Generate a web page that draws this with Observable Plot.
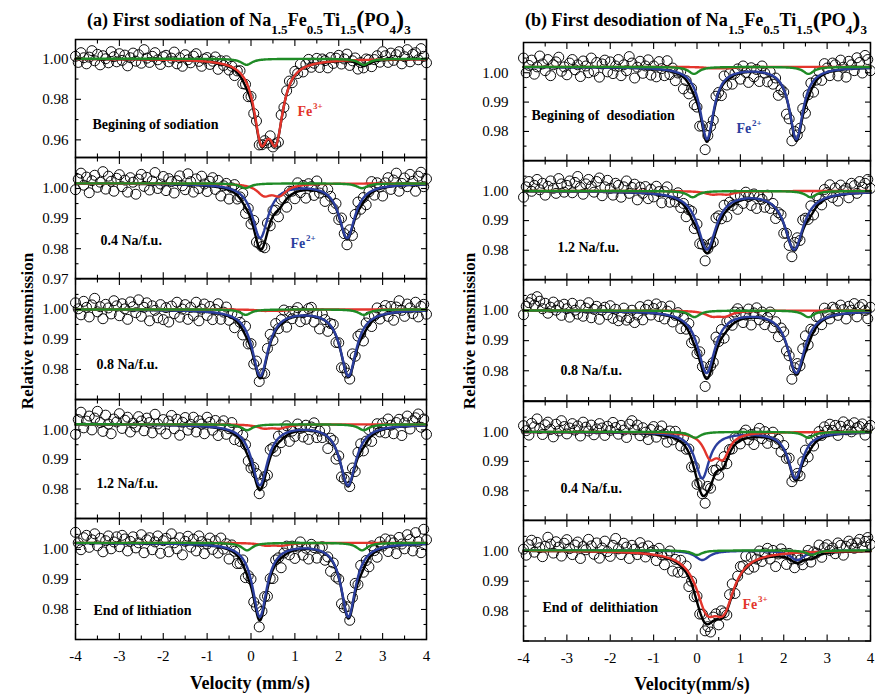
<!DOCTYPE html>
<html>
<head>
<meta charset="utf-8">
<script src="https://cdn.jsdelivr.net/npm/d3@7"></script>
<script src="https://cdn.jsdelivr.net/npm/@observablehq/plot@0.6"></script>
<style>
  html, body { margin: 0; padding: 0; background: #fff; }
  #fig { position: relative; width: 875px; height: 694px; background: #fff; overflow: hidden; }
</style>
</head>
<body>
<div id="fig"></div>
<script>
// Mössbauer spectra of Na1.5Fe0.5Ti1.5(PO4)3 during the first sodiation / desodiation.
// Transmission is sampled on 129 velocity channels from -4 to +4 mm/s.
const velocity = d3.range(129).map(i => -4 + i / 16);

// ---- measured transmission, first sodiation ----
const sodStart = [1.0012,0.9982,1.0030,1.0005,0.9975,1.0008,1.0040,0.9990,1.0022,0.9970,1.0015,1.0000,0.9980,1.0035,1.0010,0.9985,
1.0025,0.9992,1.0018,0.9965,1.0005,1.0028,0.9988,1.0020,0.9978,1.0045,1.0003,0.9982,1.0012,1.0030,0.9995,0.9972,
1.0010,1.0017,0.9985,1.0003,1.0033,0.9975,1.0005,0.9963,1.0020,0.9995,0.9980,1.0013,1.0025,0.9987,0.9963,0.9999,
1.0006,0.9972,0.9988,1.0009,0.9948,0.9990,0.9967,0.9990,0.9944,0.9963,0.9917,0.9940,0.9941,0.9877,0.9874,0.9813,
0.9814,0.9730,0.9693,0.9575,0.9576,0.9596,0.9585,0.9620,0.9565,0.9580,0.9589,0.9723,0.9760,0.9842,0.9890,0.9882,
0.9938,0.9927,0.9973,0.9935,0.9972,0.9997,0.9958,0.9978,1.0002,0.9957,0.9999,0.9991,0.9955,1.0006,0.9977,1.0003,
1.0017,0.9974,0.9999,1.0023,0.9967,0.9990,1.0004,0.9949,0.9981,0.9955,0.9999,0.9995,0.9961,0.9996,1.0015,0.9983,
1.0035,1.0015,0.9982,1.0028,0.9992,1.0020,1.0035,0.9975,1.0010,1.0045,0.9985,1.0022,1.0030,0.9995,1.0050,1.0012,0.9980];

const sod04 = [0.9996,1.0031,1.0051,1.0011,1.0038,0.9986,1.0026,1.0044,1.0004,1.0021,1.0056,0.9998,1.0041,1.0024,0.9991,1.0034,
1.0046,1.0006,1.0028,0.9988,1.0036,1.0021,0.9981,1.0031,1.0047,1.0007,1.0037,0.9995,1.0025,1.0053,1.0000,1.0015,
1.0040,0.9993,1.0033,1.0023,0.9985,1.0026,1.0042,1.0009,0.9996,1.0049,1.0023,0.9988,1.0032,1.0000,1.0041,1.0015,
0.9990,1.0024,1.0036,0.9997,1.0027,0.9975,1.0009,1.0017,0.9965,1.0002,1.0013,0.9965,0.9972,0.9984,0.9917,0.9934,
0.9882,0.9894,0.9822,0.9817,0.9807,0.9803,0.9885,0.9876,0.9927,0.9928,0.9906,0.9964,0.9967,0.9938,0.9991,0.9991,
0.9966,1.0019,0.9986,1.0010,0.9968,1.0016,1.0006,0.9977,1.0025,0.9985,0.9998,0.9957,0.9997,0.9974,0.9933,0.9950,
0.9897,0.9902,0.9850,0.9813,0.9863,0.9844,0.9914,0.9955,0.9931,0.9970,0.9946,0.9989,1.0023,0.9978,1.0019,1.0005,
0.9975,1.0019,1.0036,0.9997,1.0028,1.0051,0.9991,1.0017,1.0035,1.0006,1.0047,1.0024,0.9991,1.0041,1.0054,1.0006,1.0032];

const sod08 = [1.0022,1.0002,0.9982,1.0027,1.0007,0.9975,1.0015,1.0037,0.9992,1.0009,0.9969,1.0017,1.0005,0.9985,1.0029,1.0012,
0.9979,1.0019,1.0002,0.9967,1.0025,1.0009,0.9989,1.0032,0.9977,1.0007,1.0022,0.9962,1.0012,0.9997,0.9972,1.0016,
0.9966,1.0006,0.9958,1.0011,0.9986,1.0024,0.9974,1.0001,1.0016,0.9967,1.0007,0.9980,1.0024,0.9962,1.0001,1.0018,
0.9980,1.0010,0.9966,1.0000,1.0019,0.9967,0.9991,1.0008,0.9964,0.9986,0.9939,0.9981,0.9957,0.9915,0.9944,0.9885,
0.9886,0.9818,0.9828,0.9760,0.9786,0.9787,0.9870,0.9917,0.9897,0.9953,0.9936,0.9966,0.9998,0.9941,0.9993,0.9969,
0.9994,1.0006,0.9959,0.9989,0.9967,1.0003,1.0007,0.9958,0.9986,0.9935,0.9985,0.9966,0.9927,0.9953,0.9950,0.9890,
0.9889,0.9806,0.9805,0.9788,0.9768,0.9852,0.9844,0.9911,0.9918,0.9895,0.9955,0.9975,0.9943,0.9979,1.0005,0.9968,
0.9997,1.0013,0.9977,1.0010,0.9964,1.0008,1.0029,0.9997,0.9977,1.0018,1.0005,0.9986,1.0024,0.9975,1.0010,1.0017,0.9984];

const sod12 = [0.9985,1.0035,1.0060,1.0007,1.0030,1.0047,1.0000,1.0040,1.0063,1.0025,0.9995,1.0050,1.0020,0.9987,1.0037,1.0027,
1.0055,1.0005,1.0033,1.0043,0.9993,1.0023,1.0010,1.0045,1.0030,0.9997,1.0040,1.0025,0.9990,1.0053,1.0020,1.0003,
1.0035,0.9987,1.0030,1.0049,1.0004,1.0036,0.9982,1.0026,1.0042,0.9999,1.0019,1.0043,0.9993,1.0031,1.0020,0.9987,
1.0043,1.0026,0.9999,1.0032,0.9981,1.0017,1.0031,0.9985,1.0004,1.0025,0.9967,0.9993,0.9961,0.9982,0.9950,0.9895,
0.9871,0.9873,0.9852,0.9784,0.9819,0.9842,0.9847,0.9933,0.9940,0.9928,0.9979,0.9957,0.9992,1.0014,0.9961,0.9996,
0.9978,1.0020,1.0005,0.9976,1.0016,0.9968,1.0010,1.0024,0.9974,0.9996,0.9974,1.0002,0.9937,0.9972,0.9964,0.9901,
0.9912,0.9841,0.9834,0.9839,0.9808,0.9871,0.9859,0.9924,0.9953,0.9929,0.9962,1.0001,0.9961,1.0000,1.0021,0.9993,
1.0023,0.9990,1.0037,1.0016,0.9987,1.0025,1.0036,0.9981,1.0024,1.0047,1.0003,1.0031,1.0041,1.0054,1.0009,1.0037,0.9985];

const sodEnd = [1.0057,1.0022,0.9999,1.0039,1.0047,1.0007,1.0032,1.0052,1.0012,1.0037,0.9992,1.0029,1.0045,1.0002,1.0025,1.0042,
1.0009,1.0047,1.0035,0.9995,1.0027,1.0042,1.0005,1.0022,1.0049,0.9989,1.0032,1.0039,0.9999,1.0025,1.0045,0.9987,
1.0029,1.0037,0.9992,1.0052,1.0022,1.0002,1.0039,0.9982,1.0027,1.0044,1.0008,1.0034,0.9995,1.0045,1.0026,0.9986,
1.0018,1.0038,1.0000,1.0029,0.9988,1.0038,1.0001,1.0019,0.9968,1.0015,0.9994,0.9953,0.9953,0.9965,0.9906,0.9913,
0.9901,0.9825,0.9809,0.9742,0.9794,0.9843,0.9844,0.9903,0.9903,0.9965,0.9972,0.9939,0.9988,1.0011,0.9982,1.0011,
0.9970,1.0008,1.0025,0.9981,1.0004,0.9968,1.0017,1.0006,0.9971,1.0005,1.0009,0.9964,0.9975,0.9927,0.9955,0.9908,
0.9901,0.9819,0.9806,0.9809,0.9764,0.9840,0.9887,0.9883,0.9947,0.9924,0.9963,0.9942,1.0012,0.9996,0.9974,1.0025,
1.0011,1.0035,0.9993,1.0031,1.0022,0.9986,1.0040,1.0018,1.0002,1.0049,1.0033,0.9995,1.0056,1.0026,0.9989,1.0067,1.0032];

// ---- measured transmission, first desodiation ----
const desStart = [1.0050,1.0000,1.0025,1.0043,0.9995,1.0020,1.0057,1.0030,1.0007,1.0045,0.9990,1.0027,1.0037,1.0053,1.0005,1.0020,
0.9993,1.0033,1.0045,1.0010,1.0027,0.9987,1.0040,1.0023,1.0000,1.0050,1.0005,1.0035,0.9985,1.0030,1.0043,1.0003,
1.0037,0.9997,1.0023,1.0045,0.9990,1.0027,1.0007,1.0055,1.0033,0.9982,1.0019,1.0039,0.9998,1.0023,1.0044,0.9992,
1.0023,0.9986,1.0038,1.0014,0.9990,1.0041,0.9994,1.0016,0.9973,0.9999,1.0004,0.9945,0.9973,0.9928,0.9947,0.9891,
0.9883,0.9818,0.9819,0.9738,0.9786,0.9817,0.9838,0.9920,0.9933,0.9922,0.9989,0.9958,0.9997,0.9961,0.9998,1.0013,
0.9978,1.0023,1.0001,0.9967,1.0017,0.9986,1.0011,0.9970,1.0023,0.9999,0.9969,1.0003,0.9961,0.9982,0.9923,0.9943,
0.9934,0.9859,0.9843,0.9768,0.9800,0.9788,0.9811,0.9878,0.9862,0.9925,0.9965,0.9934,0.9975,1.0005,0.9974,1.0031,
1.0016,0.9990,1.0033,1.0027,0.9989,1.0043,1.0019,0.9985,1.0039,1.0027,1.0007,1.0051,1.0035,0.9999,1.0059,1.0045,1.0007];

const des12 = [0.9979,1.0014,1.0032,0.9999,1.0019,1.0039,1.0004,1.0026,0.9986,1.0016,1.0034,1.0009,0.9992,1.0042,1.0024,0.9996,
1.0019,1.0034,0.9994,1.0029,1.0049,1.0012,0.9989,1.0024,1.0039,1.0016,0.9996,1.0032,1.0044,0.9984,1.0014,1.0036,
1.0009,0.9986,1.0026,1.0019,0.9979,1.0014,1.0034,0.9992,1.0012,1.0023,0.9970,1.0013,0.9992,1.0015,0.9974,1.0006,
0.9980,1.0016,0.9998,0.9960,0.9998,1.0014,0.9962,0.9987,0.9963,0.9994,0.9944,0.9958,0.9913,0.9937,0.9932,0.9873,
0.9888,0.9822,0.9820,0.9764,0.9805,0.9821,0.9828,0.9909,0.9916,0.9906,0.9952,0.9913,0.9962,0.9951,0.9986,0.9938,
0.9983,0.9958,0.9996,0.9981,0.9951,0.9990,0.9941,0.9981,0.9972,0.9945,0.9986,0.9941,0.9958,0.9907,0.9927,0.9920,
0.9857,0.9857,0.9816,0.9778,0.9826,0.9842,0.9833,0.9902,0.9908,0.9904,0.9950,0.9919,0.9984,0.9972,0.9953,1.0005,
0.9995,1.0021,0.9978,1.0010,0.9966,1.0020,1.0001,1.0009,0.9977,1.0026,1.0018,0.9992,1.0032,1.0013,1.0026,1.0039,1.0009];

const des08 = [0.9986,1.0014,1.0026,1.0038,1.0018,1.0046,1.0031,1.0006,1.0024,0.9991,1.0011,1.0028,1.0001,1.0016,0.9984,1.0021,
1.0006,0.9978,1.0024,1.0001,0.9988,1.0018,0.9981,1.0008,1.0026,0.9976,1.0004,1.0014,0.9971,1.0001,1.0011,0.9986,
1.0016,0.9974,1.0004,0.9966,0.9981,1.0008,0.9968,0.9976,1.0001,0.9960,0.9985,1.0013,0.9969,1.0004,1.0018,0.9985,
1.0007,1.0022,0.9980,1.0013,0.9972,0.9998,1.0015,0.9962,0.9984,0.9993,0.9940,0.9974,0.9938,0.9957,0.9893,0.9901,
0.9857,0.9863,0.9814,0.9748,0.9796,0.9815,0.9828,0.9912,0.9897,0.9937,0.9908,0.9963,0.9966,0.9951,0.9995,1.0006,
0.9993,0.9960,0.9985,1.0005,0.9952,0.9992,1.0009,0.9969,0.9995,0.9953,0.9977,0.9995,0.9943,0.9963,0.9913,0.9942,
0.9929,0.9866,0.9850,0.9772,0.9810,0.9824,0.9816,0.9873,0.9916,0.9886,0.9938,0.9934,0.9980,0.9979,0.9953,1.0008,
0.9992,0.9972,1.0011,1.0006,0.9984,1.0018,1.0003,0.9972,1.0014,1.0001,1.0023,0.9979,1.0012,1.0020,1.0000,0.9973,1.0011];

const des04 = [1.0021,1.0004,0.9989,1.0029,1.0017,1.0044,1.0011,0.9991,1.0024,1.0033,1.0008,0.9983,1.0026,1.0003,1.0038,1.0018,
0.9993,1.0013,1.0028,1.0006,1.0020,0.9986,1.0033,1.0016,1.0003,1.0023,0.9990,1.0010,1.0028,1.0013,0.9988,1.0019,
1.0005,1.0032,1.0015,0.9992,1.0022,1.0006,0.9981,1.0026,1.0038,1.0007,1.0023,0.9987,1.0014,0.9999,0.9974,1.0008,
1.0018,0.9982,1.0003,1.0020,0.9993,0.9965,1.0003,0.9973,1.0002,0.9984,0.9952,0.9980,0.9941,0.9942,0.9881,0.9882,
0.9822,0.9826,0.9790,0.9758,0.9815,0.9809,0.9869,0.9871,0.9853,0.9887,0.9916,0.9892,0.9940,0.9942,0.9981,0.9980,
0.9959,0.9994,1.0006,0.9973,0.9991,0.9957,0.9997,1.0012,0.9977,1.0001,0.9961,0.9985,0.9999,0.9960,0.9975,0.9932,
0.9954,0.9910,0.9911,0.9831,0.9847,0.9859,0.9851,0.9899,0.9938,0.9915,0.9971,0.9952,0.9985,1.0001,0.9988,1.0017,
1.0005,1.0026,1.0005,1.0022,0.9988,1.0019,1.0034,1.0007,1.0023,1.0000,1.0031,1.0014,1.0018,1.0027,0.9989,1.0012,1.0022];

const desEnd = [1.0007,0.9987,1.0022,1.0037,0.9997,1.0030,1.0012,0.9982,1.0017,1.0047,1.0024,0.9994,1.0032,1.0014,0.9984,1.0027,
1.0039,1.0009,0.9989,1.0021,1.0031,0.9976,1.0016,1.0005,1.0040,1.0018,0.9990,1.0028,0.9977,1.0011,1.0034,0.9999,
0.9983,1.0020,1.0043,1.0008,0.9989,1.0027,1.0014,0.9976,1.0020,1.0007,0.9989,1.0029,1.0012,0.9981,1.0018,0.9997,
1.0003,0.9969,1.0010,0.9988,0.9955,0.9989,1.0001,0.9934,0.9973,0.9930,0.9970,0.9929,0.9951,0.9882,0.9900,0.9848,
0.9850,0.9790,0.9790,0.9734,0.9748,0.9730,0.9780,0.9791,0.9754,0.9801,0.9794,0.9787,0.9855,0.9891,0.9859,0.9917,
0.9949,0.9951,0.9984,0.9940,0.9981,0.9947,0.9974,1.0001,0.9966,0.9994,1.0010,0.9974,1.0003,0.9949,0.9991,1.0008,
0.9993,0.9956,0.9993,0.9974,0.9945,0.9985,0.9971,0.9955,0.9986,1.0003,0.9964,0.9998,0.9994,1.0021,0.9980,1.0012,
1.0022,1.0003,1.0011,0.9992,1.0028,1.0020,0.9987,1.0017,1.0034,1.0024,1.0010,1.0028,1.0040,1.0015,1.0033,1.0046,1.0023];

// ---- fitted Lorentzian sub-spectra (line positions in mm/s, half width, depth per line) ----
const sodBaseline = [1.0000, 1.0017, 1.0000, 1.0019, 1.0022];
const desBaseline = [1.0020, 1.0000, 1.0000, 1.0000, 1.0003];

const sodStartFit = [
  {site: "Fe3+", lines: [0.23, 0.57], width: 0.20, depth: 0.0340},
  {site: "minor", lines: [-0.10, 2.57], width: 0.15, depth: 0.0030}
];
const sod04Fit = [
  {site: "Fe2+", lines: [0.21, 2.19], width: 0.22, depth: 0.0180},
  {site: "Fe3+", lines: [0.30, 0.65], width: 0.20, depth: 0.0035},
  {site: "minor", lines: [-0.13, 2.53], width: 0.15, depth: 0.0016}
];
const sod08Fit = [
  {site: "Fe2+", lines: [0.21, 2.22], width: 0.22, depth: 0.0220},
  {site: "Fe3+", lines: [0.30, 0.65], width: 0.20, depth: 0.0004},
  {site: "minor", lines: [-0.12, 2.57], width: 0.15, depth: 0.0018}
];
const sod12Fit = [
  {site: "Fe2+", lines: [0.20, 2.21], width: 0.22, depth: 0.0205},
  {site: "Fe3+", lines: [0.30, 0.65], width: 0.20, depth: 0.0012},
  {site: "minor", lines: [-0.09, 2.57], width: 0.15, depth: 0.0020}
];
const sodEndFit = [
  {site: "Fe2+", lines: [0.20, 2.22], width: 0.20, depth: 0.0245},
  {site: "Fe3+", lines: [0.35, 0.70], width: 0.20, depth: 0.0008},
  {site: "minor", lines: [-0.09, 2.53], width: 0.15, depth: 0.0025}
];
const desStartFit = [
  {site: "Fe2+", lines: [0.23, 2.29], width: 0.19, depth: 0.0245},
  {site: "Fe3+", lines: [0.35, 0.70], width: 0.20, depth: 0.0004},
  {site: "minor", lines: [-0.07, 2.57], width: 0.15, depth: 0.0024}
];
const des12Fit = [
  {site: "Fe2+", lines: [0.23, 2.24], width: 0.26, depth: 0.0195},
  {site: "Fe3+", lines: [0.35, 0.70], width: 0.20, depth: 0.0010},
  {site: "minor", lines: [-0.10, 2.62], width: 0.15, depth: 0.0021}
];
const des08Fit = [
  {site: "Fe2+", lines: [0.22, 2.29], width: 0.24, depth: 0.0205},
  {site: "Fe3+", lines: [0.35, 0.65], width: 0.20, depth: 0.0016},
  {site: "minor", lines: [-0.06, 2.57], width: 0.15, depth: 0.0022}
];
const des04Fit = [
  {site: "Fe2+", lines: [0.12, 2.27], width: 0.20, depth: 0.0157},
  {site: "Fe3+", lines: [0.30, 0.60], width: 0.18, depth: 0.0076},
  {site: "minor", lines: [-0.04, 2.57], width: 0.15, depth: 0.0020}
];
const desEndFit = [
  {site: "Fe2+", lines: [0.12, 2.31], width: 0.20, depth: 0.0032},
  {site: "Fe3+", lines: [0.22, 0.62], width: 0.30, depth: 0.0159},
  {site: "minor", lines: [0.00, 2.65], width: 0.15, depth: 0.0015}
];

// ---- panel captions ----
const sodCaptions = ["Begining of sodiation", "0.4 Na/f.u.", "0.8 Na/f.u.", "1.2 Na/f.u.", "End of lithiation"];
const desCaptions = ["Begining of \u00a0desodiation", "1.2 Na/f.u.", "0.8 Na/f.u.", "0.4 Na/f.u.", "End of \u00a0delithiation"];

// ---- axis ticks ----
const xLabels = [-4, -3, -2, -1, 0, 1, 2, 3, 4];
const xMinorTicks = [-3.5, -2.5, -1.5, -0.5, 0.5, 1.5, 2.5, 3.5];
const yMajorTicks = [0.97, 0.98, 0.99, 1.00];
const yMinorTicks = [0.975, 0.985, 0.995, 1.005];
const yMajorTicksWide = [0.96, 0.98, 1.00];
const yMinorTicksWide = [0.97, 0.99];

// ---- drawing ----
const SERIF = '"Liberation Serif", "Times New Roman", Times, serif';
const siteColor = {"Fe2+": "#2b3e9e", "Fe3+": "#e3352c", "minor": "#1f8b26"};
const siteOrder = ["Fe2+", "Fe3+", "minor"];
const fineV = d3.range(401).map(i => -4 + i * 0.02);

function absorption(v, comps) {
  return d3.sum(comps, c => d3.sum(c.lines, p => c.depth / (1 + ((v - p) / c.width) ** 2)));
}

const columns = [
  {left: 75, right: 426, rows: [39, 157, 278.3, 399.3, 518.3, 639.3], pad: 7},
  {left: 523, right: 870, rows: [41.7, 160, 279.3, 400.7, 519.5, 640], pad: 15}
];

const fig = d3.select("#fig");

function note(text, dx, dy, opts = {}) {
  return Plot.text([text], {
    text: d => d, frameAnchor: "top-left", dx, dy,
    textAnchor: "start", lineAnchor: "bottom",
    fontWeight: "bold", fontSize: opts.size || 14, fill: opts.fill || "#000"
  });
}

function drawPanel(p) {
  const col = columns[p.col];
  const top = col.rows[p.row], bottom = col.rows[p.row + 1];
  const isBottom = p.row === 4;
  const ml = 70, mr = 5, mt = 5, mb = isBottom ? 34 : 5;
  const fw = col.right - col.left, fh = bottom - top;
  const pts = p.data.map((t, i) => ({v: velocity[i], t}));
  const total = fineV.map(v => ({v, t: p.base - absorption(v, p.fit)}));
  const comps = siteOrder.map(s => p.fit.find(c => c.site === s)).filter(Boolean);
  const wide = p.wide;
  const yMaj = wide ? yMajorTicksWide : yMajorTicks;
  const yMin = wide ? yMinorTicksWide : yMinorTicks;
  const tickAxis = (fn, anchor, ticks, size) =>
    fn({anchor, ticks, tickSize: -size, fill: "none", stroke: "#000", strokeWidth: 1.1, label: null});

  const marks = [
    Plot.dot(pts, {x: "v", y: "t", r: 5, stroke: "#000", strokeWidth: 0.95, fill: "none"}),
    Plot.line(total, {x: "v", y: "t", stroke: "#000", strokeWidth: 2.4}),
    ...comps.map(c => Plot.line(fineV.map(v => ({v, t: p.base - absorption(v, [c])})),
      {x: "v", y: "t", stroke: siteColor[c.site], strokeWidth: 2.4})),
    tickAxis(Plot.axisX, "bottom", xLabels, 6),
    tickAxis(Plot.axisX, "bottom", xMinorTicks, 3.5),
    tickAxis(Plot.axisX, "top", xLabels, 6),
    tickAxis(Plot.axisX, "top", xMinorTicks, 3.5),
    tickAxis(Plot.axisY, "left", yMaj, 6),
    tickAxis(Plot.axisY, "left", yMin, 3.5),
    tickAxis(Plot.axisY, "right", yMaj, 6),
    tickAxis(Plot.axisY, "right", yMin, 3.5),
    Plot.axisY({anchor: "left", ticks: p.yLabels, tickSize: 0, tickPadding: col.pad,
      tickFormat: d3.format(".2f"), fontSize: 15, label: null}),
    isBottom ? Plot.axisX({anchor: "bottom", ticks: xLabels, tickSize: 0, tickPadding: 11,
      tickFormat: d => String(d), fontSize: 15, label: null}) : null,
    Plot.frame({stroke: "#000", strokeWidth: 1.5}),
    note(p.caption, p.captionAt[0], p.captionAt[1]),
    ...(p.site ? [
      note("Fe", p.site.at[0], p.site.at[1], {fill: siteColor[p.site.name]}),
      note(p.site.name.slice(2), p.site.at[0] + 15.5, p.site.at[1] - 7, {fill: siteColor[p.site.name], size: 9})
    ] : [])
  ];

  const svg = Plot.plot({
    width: fw + ml + mr, height: fh + mt + mb,
    marginLeft: ml, marginRight: mr, marginTop: mt, marginBottom: mb,
    x: {domain: [-4, 4]},
    y: {domain: p.domain},
    style: {fontFamily: SERIF, background: "transparent", overflow: "visible", color: "#000"},
    marks
  });
  svg.style.position = "absolute";
  svg.style.left = (col.left - ml) + "px";
  svg.style.top = (top - mt) + "px";
  svg.style.maxWidth = "none";
  fig.node().appendChild(svg);
}

const narrow = [0.97, 1.0103];
const sodPanels = [
  {data: sodStart, fit: sodStartFit, domain: [0.9513, 1.0095], wide: true, yLabels: [0.96, 0.98, 1.00],
   captionAt: [17, 89], site: {name: "Fe3+", at: [222, 76]}},
  {data: sod04, fit: sod04Fit, domain: narrow, yLabels: [0.97, 0.98, 0.99, 1.00],
   captionAt: [25, 88], site: {name: "Fe2+", at: [215, 91]}},
  {data: sod08, fit: sod08Fit, domain: narrow, yLabels: [0.98, 0.99, 1.00], captionAt: [21, 90]},
  {data: sod12, fit: sod12Fit, domain: narrow, yLabels: [0.98, 0.99, 1.00], captionAt: [21, 88]},
  {data: sodEnd, fit: sodEndFit, domain: narrow, yLabels: [0.98, 0.99, 1.00], captionAt: [18, 96]}
];
const desPanels = [
  {data: desStart, fit: desStartFit, domain: narrow, yLabels: [0.98, 0.99, 1.00],
   captionAt: [8, 78], site: {name: "Fe2+", at: [213, 91]}},
  {data: des12, fit: des12Fit, domain: narrow, yLabels: [0.98, 0.99, 1.00], captionAt: [34, 92]},
  {data: des08, fit: des08Fit, domain: narrow, yLabels: [0.98, 0.99, 1.00], captionAt: [37, 96]},
  {data: des04, fit: des04Fit, domain: narrow, yLabels: [0.98, 0.99, 1.00], captionAt: [37, 92]},
  {data: desEnd, fit: desEndFit, domain: narrow, yLabels: [0.98, 0.99, 1.00],
   captionAt: [19, 91], site: {name: "Fe3+", at: [219, 88]}}
];
sodPanels.forEach((p, i) => drawPanel({...p, col: 0, row: i, base: sodBaseline[i], caption: sodCaptions[i]}));
desPanels.forEach((p, i) => drawPanel({...p, col: 1, row: i, base: desBaseline[i], caption: desCaptions[i]}));

// ---- titles and axis titles ----
const overlay = fig.append("svg")
  .attr("width", 875).attr("height", 694)
  .style("position", "absolute").style("left", "0px").style("top", "0px")
  .style("pointer-events", "none")
  .attr("font-family", SERIF).attr("font-weight", "bold").attr("fill", "#000");

// chemical-formula title, scaled so that it spans the given width
function formulaTitle(x, lead, span) {
  const t = overlay.append("text").attr("x", x).attr("y", 26);
  const parts = [
    [lead + " Na", 18, 0], ["1.5", 13, 8], ["Fe", 18, 0], ["0.5", 13, 8],
    ["Ti", 18, 0], ["1.5", 13, 8], ["(", 24, 2], ["PO", 18, 0], ["4", 13, 8],
    [")", 24, 2], ["3", 13, 8]
  ];
  const spans = parts.map(([s, size, drop]) =>
    t.append("tspan").attr("y", 26 + drop).attr("font-size", size).text(s));
  const k = span / t.node().getComputedTextLength();
  spans.forEach((sp, i) => sp.attr("font-size", parts[i][1] * k));
}
formulaTitle(87, "(a) First sodiation of", 324);
formulaTitle(525, "(b) First desodiation of", 342);

overlay.append("text").attr("x", 250).attr("y", 689).attr("text-anchor", "middle")
  .attr("font-size", 18).text("Velocity (mm/s)");
overlay.append("text").attr("x", 692).attr("y", 690).attr("text-anchor", "middle")
  .attr("font-size", 18).text("Velocity(mm/s)");

[[33, 331], [475, 331]].forEach(([x, y]) =>
  overlay.append("text").attr("transform", `translate(${x},${y}) rotate(-90)`)
    .attr("text-anchor", "middle").attr("font-size", 17).text("Relative transmission"));
</script>
</body>
</html>
